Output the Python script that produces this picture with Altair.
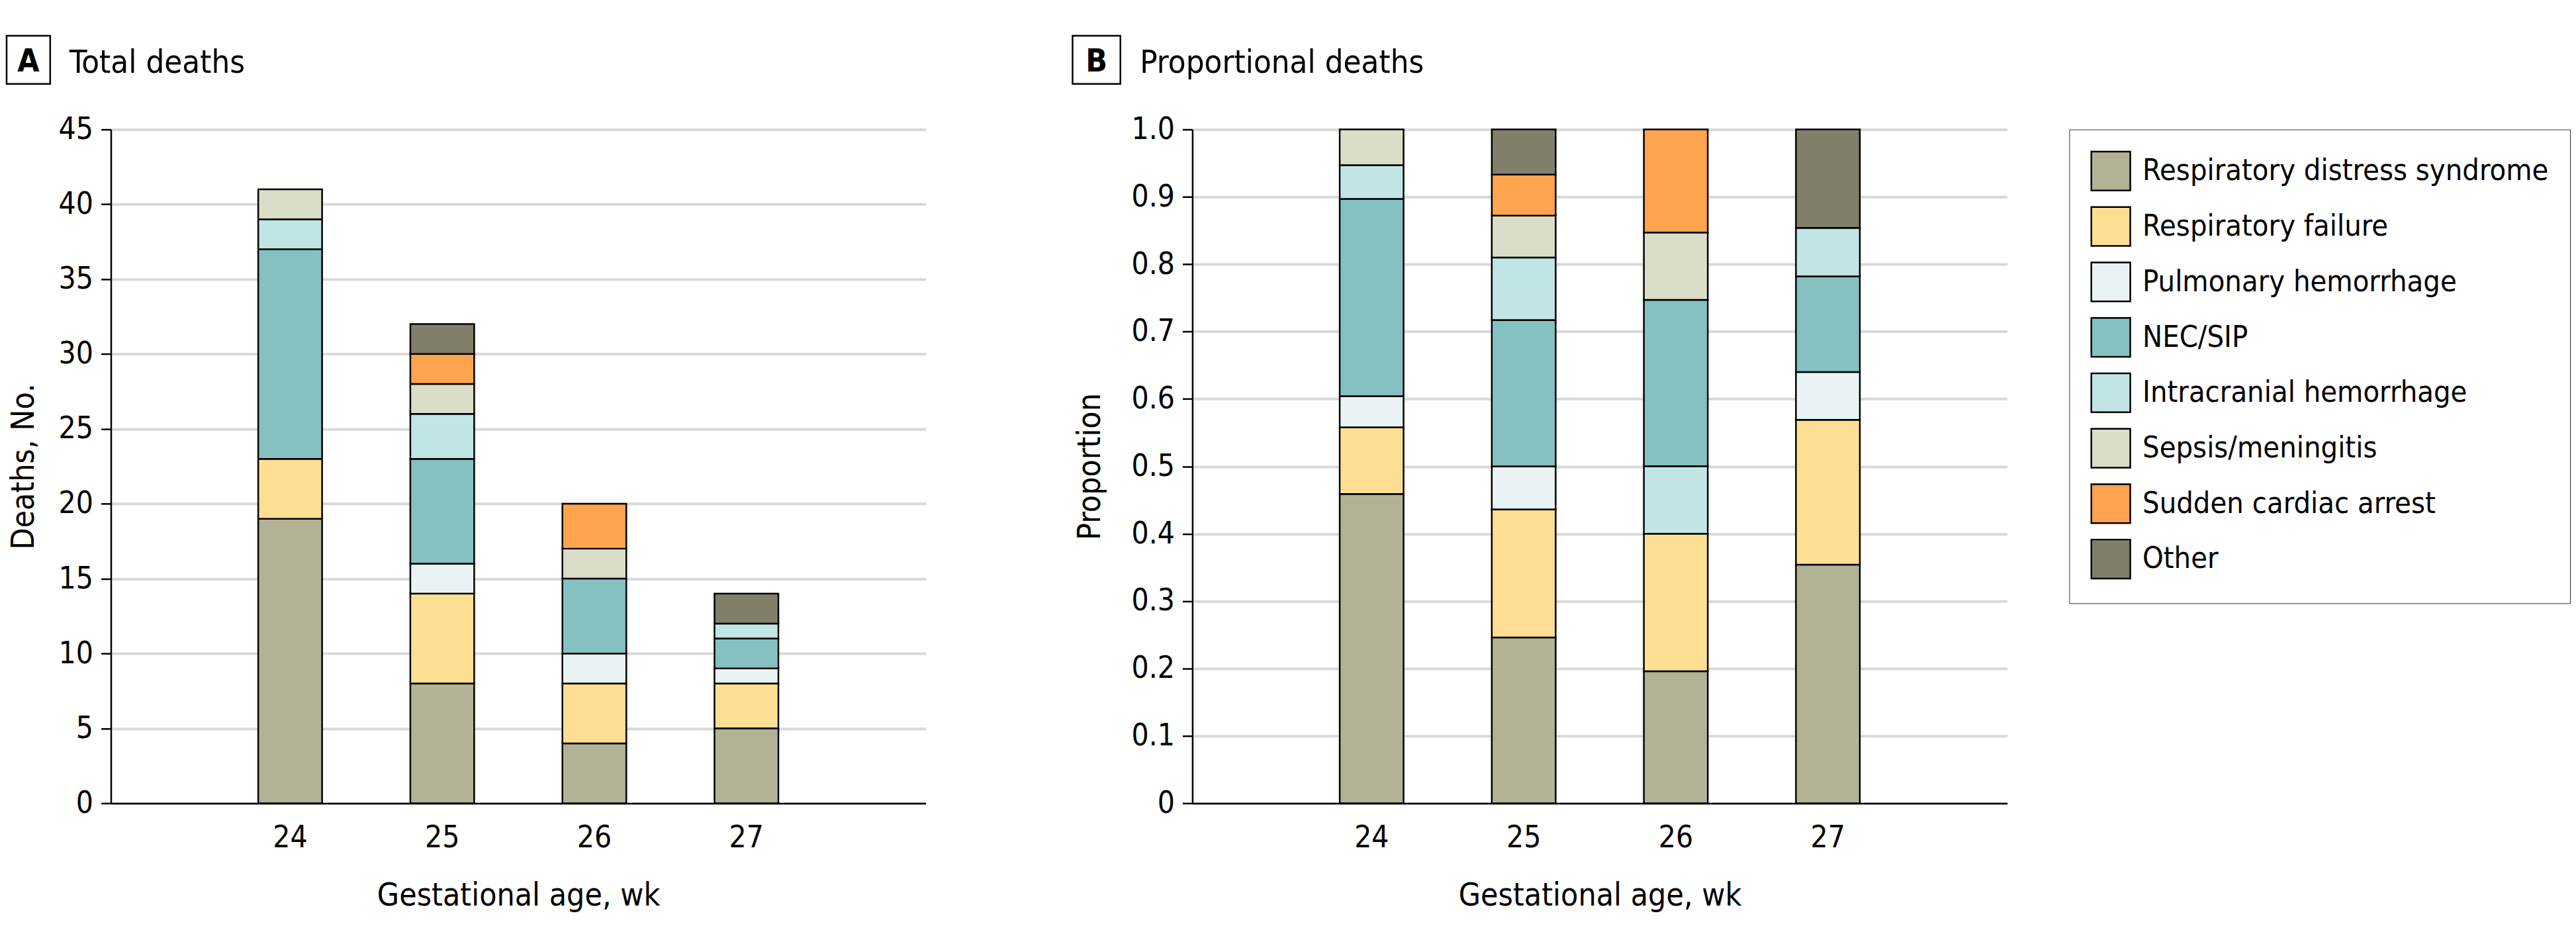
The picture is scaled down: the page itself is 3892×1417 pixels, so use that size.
import altair as alt
import pandas as pd

FONT = "DejaVu Sans Condensed"

weeks = ["24", "25", "26", "27"]
causes = [
    "Respiratory distress syndrome",
    "Respiratory failure",
    "Pulmonary hemorrhage",
    "NEC/SIP",
    "Intracranial hemorrhage",
    "Sepsis/meningitis",
    "Sudden cardiac arrest",
    "Other",
]
colors = ["#b2b394", "#fddf94", "#eaf3f3", "#85c1c0", "#c0e5e4", "#dadec8", "#fea34e", "#817f6a"]

# Panel A: total deaths (No.) by gestational age 24, 25, 26, 27 wk
a_rds = [19, 8, 4, 5]
a_rf = [4, 6, 4, 3]
a_pulm = [0, 2, 2, 1]
a_nec = [14, 7, 5, 2]
a_ich = [2, 3, 0, 1]
a_sepsis = [2, 2, 2, 0]
a_sca = [0, 2, 3, 0]
a_other = [0, 2, 0, 2]

# Panel B: proportional deaths by gestational age 24, 25, 26, 27 wk
b_rds = [0.459, 0.246, 0.196, 0.354]
b_rf = [0.099, 0.190, 0.204, 0.215]
b_pulm = [0.046, 0.064, 0.0, 0.071]
b_nec = [0.293, 0.217, 0.247, 0.142]
b_ich = [0.050, 0.093, 0.100, 0.072]
b_sepsis = [0.053, 0.062, 0.100, 0.0]
b_sca = [0.0, 0.061, 0.153, 0.0]
b_other = [0.0, 0.067, 0.0, 0.146]
# in panel B, week 26 stacks intracranial hemorrhage below NEC/SIP
b_stack_26 = [
    "Respiratory distress syndrome",
    "Respiratory failure",
    "Intracranial hemorrhage",
    "NEC/SIP",
    "Sepsis/meningitis",
    "Sudden cardiac arrest",
]

a_ticks = [0, 5, 10, 15, 20, 25, 30, 35, 40, 45]
b_ticks = [0, 0.1, 0.2, 0.3, 0.4, 0.5, 0.6, 0.7, 0.8, 0.9, 1.0]


def frame(series, override=None):
    rows = []
    for ci, (cause, vals) in enumerate(zip(causes, series)):
        for wi, w in enumerate(weeks):
            v = vals[wi]
            if v > 0:
                pos = ci
                if override and w in override and cause in override[w]:
                    pos = override[w].index(cause)
                rows.append({"week": w, "cause": cause, "value": v, "pos": pos})
    return pd.DataFrame(rows)


df_a = frame([a_rds, a_rf, a_pulm, a_nec, a_ich, a_sepsis, a_sca, a_other])
df_b = frame([b_rds, b_rf, b_pulm, b_nec, b_ich, b_sepsis, b_sca, b_other], {"26": b_stack_26})

W, H = 1235, 1021


def panel(df, ymax, ticks, ytitle, ytitle_x, label_expr, legend, letter, title, box_x0, box_x1, title_x):
    yaxis_kw = dict(
        values=ticks,
        title=ytitle,
        grid=True,
        gridColor="#d9d9d9",
        gridWidth=4,
        tickColor="black",
        tickWidth=2.5,
        tickSize=15,
        domainColor="black",
        domainWidth=2.5,
        labelFontSize=46,
        labelPadding=12,
        labelColor="black",
        titleFontSize=48,
        titleFontWeight="normal",
        titleColor="black",
        titleX=ytitle_x,
        titleY=H / 2,
        titleAngle=270,
        titleBaseline="middle",
        titleAlign="center",
    )
    if label_expr:
        yaxis_kw["labelExpr"] = label_expr
    bars = alt.Chart(df).mark_bar(stroke="black", strokeWidth=2.5).encode(
        x=alt.X(
            "week:O",
            sort=weeks,
            scale=alt.Scale(paddingInner=0.58, paddingOuter=0.969),
            axis=alt.Axis(
                title="Gestational age, wk",
                labelAngle=0,
                ticks=False,
                grid=False,
                domainColor="black",
                domainWidth=2.5,
                labelFontSize=46,
                labelPadding=30,
                labelColor="black",
                titleFontSize=48,
                titleFontWeight="normal",
                titleColor="black",
                titleY=155,
                titleBaseline="alphabetic",
            ),
        ),
        y=alt.Y(
            "value:Q",
            stack="zero",
            scale=alt.Scale(domain=[0, ymax], nice=False),
            axis=alt.Axis(**yaxis_kw),
        ),
        color=alt.Color("cause:N", scale=alt.Scale(domain=causes, range=colors), legend=legend),
        order=alt.Order("pos:Q", sort="ascending"),
    )
    one = pd.DataFrame({"k": [letter], "t": [title]})
    box = alt.Chart(one).mark_rect(fill="white", stroke="black", strokeWidth=2.5).encode(
        x=alt.value(box_x0), x2=alt.value(box_x1), y=alt.value(-142), y2=alt.value(-69)
    )
    letter_t = alt.Chart(one).mark_text(
        fontSize=48, fontWeight="bold", align="center", baseline="alphabetic", color="black"
    ).encode(x=alt.value((box_x0 + box_x1) / 2), y=alt.value(-88), text="k:N")
    title_t = alt.Chart(one).mark_text(
        fontSize=49, align="left", baseline="alphabetic", color="black"
    ).encode(x=alt.value(title_x), y=alt.value(-86), text="t:N")
    return alt.layer(bars, box, letter_t, title_t).properties(width=W, height=H)


legend_b = alt.Legend(
    title=None,
    orient="none",
    legendX=1329,
    legendY=0,
    symbolType="square",
    symbolSize=3481,
    symbolStrokeColor="black",
    symbolStrokeWidth=2.5,
    symbolOpacity=1,
    labelFontSize=45,
    labelOffset=17,
    labelLimit=1000,
    labelColor="black",
    rowPadding=14,
    padding=32,
    strokeColor="#333333",
)

panel_a = panel(df_a, 45, a_ticks, "Deaths, No.", -131, None, None,
                "A", "Total deaths", -158, -92, -63)
panel_b = panel(df_b, 1.0, b_ticks, "Proportion", -154,
                "datum.value == 0 ? '0' : format(datum.value, '.1f')", legend_b,
                "B", "Proportional deaths", -181.5, -109, -79.5)

chart = (
    alt.hconcat(panel_a, panel_b, spacing=221)
    .resolve_scale(color="independent")
    .properties(padding={"left": 0, "top": 42, "right": 0, "bottom": 0})
    .configure(font=FONT)
    .configure_view(strokeWidth=0)
    .configure_axis(labelFont=FONT, titleFont=FONT)
    .configure_legend(labelFont=FONT)
)

chart.save("out.html", embed_options={"renderer": "svg", "actions": False})
